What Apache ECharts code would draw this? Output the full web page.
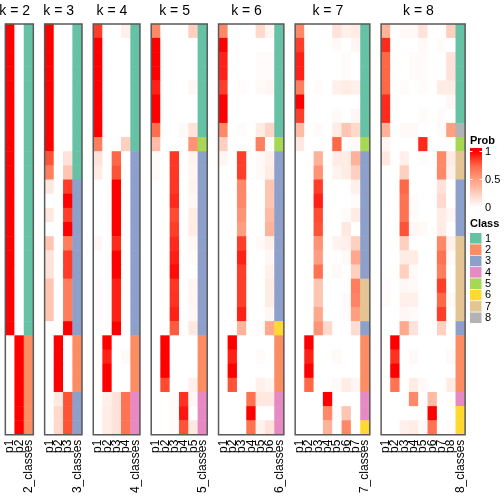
<!DOCTYPE html>
<html><head><meta charset="utf-8">
<script src="https://cdn.jsdelivr.net/npm/echarts@6/dist/echarts.min.js"></script>
<style>html,body{margin:0;padding:0;background:#fff}#c{width:504px;height:504px}</style>
</head><body><div id="c"></div>
<script>
// ---- data: rows top->bottom, columns p1..pk ----
const probK2 = [
[1,0],[1,0],[1,0],[1,0],[1,0],[1,0],[1,0],[1,0],[1,0],[1,0],[1,0],[1,0],[1,0],[1,0],[1,0],[1,0],[1,0],[1,0],[1,0],[1,0],[1,0],[1,0],
[0,1],[0,1],[0,1],[0,1],[0,1],[0,1],[0,1]];
const classK2 = [1,1,1,1,1,1,1,1,1,1,1,1,1,1,1,1,1,1,1,1,1,1,2,2,2,2,2,2,2];

const probK3 = [
[1,0,0],[1,0,0],[1,0,0],[1,0,0],[1,0,0],[1,0,0],[1,0,0],[1,0,0],[1,0,0],
[0.8,0,0.15],[0.65,0,0.3],[0.12,0,0.85],[0,0,1],[0.12,0,0.85],[0,0,1],
[0.3,0,0.65],[0.15,0,0.85],[0.15,0,0.85],[0.3,0,0.65],[0.3,0,0.65],[0.3,0,0.65],[0,0,1],
[0,1,0],[0,1,0],[0,1,0],[0,1,0],[0,0.12,0.8],[0,0.2,0.8],[0,0.2,0.8]];
const classK3 = [1,1,1,1,1,1,1,1,1,1,1,3,3,3,3,3,3,3,3,3,3,3,2,2,2,2,3,3,3];

const probK4 = [
[0.85,0,0,0.08],[1,0,0,0],[1,0,0,0],[1,0,0,0],[1,0,0,0],[1,0,0,0],[1,0,0,0],[1,0,0,0],
[0.65,0,0,0.25],[0.15,0,0.75,0],[0.1,0,0.8,0],[0,0,1,0],[0,0,1,0],[0,0,1,0],[0,0,1,0],
[0.04,0,0.9,0],[0,0,1,0],[0,0,1,0],[0.02,0,0.92,0],[0.02,0,0.92,0],[0.02,0,0.92,0],[0,0,1,0],
[0,1,0,0],[0,0.92,0,0.03],[0,1,0,0],[0,1,0,0],[0,0.08,0.15,0.7],[0,0.1,0.15,0.7],[0,0.1,0.15,0.7]];
const classK4 = [1,1,1,1,1,1,1,1,1,3,3,3,3,3,3,3,3,3,3,3,3,3,2,2,2,2,4,4,4];

const probK5 = [
[0.6,0,0,0,0.25],[1,0,0,0,0],[1,0,0,0,0],[1,0,0,0,0],[0.92,0,0,0,0.04],[1,0,0,0,0],[1,0,0,0,0],
[0.72,0,0,0.03,0.15],[0.35,0,0,0,0.55],[0.03,0,0.87,0,0.06],[0.03,0,0.87,0,0.05],[0,0,0.87,0,0.06],
[0,0,0.9,0,0.04],[0,0,0.82,0,0.1],[0,0,0.85,0,0.1],[0,0,0.9,0,0.04],[0,0,0.93,0,0.02],[0,0,0.97,0,0],
[0,0,0.87,0,0.05],[0,0,0.88,0,0.05],[0,0,0.92,0,0.04],[0,0,0.78,0,0.12],
[0,1,0,0,0],[0,1,0,0,0],[0,1,0,0,0],[0,0.82,0,0,0.08],[0,0,0.02,0.88,0.04],[0,0,0.02,0.95,0],[0,0,0.02,0.8,0.12]];
const classK5 = [1,1,1,1,1,1,1,1,5,3,3,3,3,3,3,3,3,3,3,3,3,3,2,2,2,2,4,4,4];

const probK6 = [
[0.6,0,0,0,0.2,0.05],[1,0,0,0,0,0],[0.92,0,0,0,0.02,0.02],[0.92,0,0,0,0.02,0.02],[0.85,0,0.02,0,0.03,0.05],
[1,0,0,0,0,0],[1,0,0,0,0,0],[0.6,0,0.02,0,0.1,0.22],[0.25,0,0,0,0.65,0],[0.05,0,0.85,0,0.03,0.08],
[0,0,0.85,0,0.03,0.1],[0,0,0.6,0,0,0.3],[0,0,0.6,0,0,0.3],[0,0,0.55,0,0,0.35],[0,0,0.5,0,0,0.4],
[0,0,0.85,0,0.03,0.08],[0,0,0.92,0,0,0.04],[0,0,0.85,0,0,0.08],[0,0,0.85,0,0,0.1],[0,0,0.85,0,0,0.1],
[0,0,0.92,0,0,0.04],[0,0,0.4,0,0.02,0.45],[0,1,0,0,0,0],[0,0.92,0,0,0.02,0],[0,1,0,0,0,0],
[0,0.8,0,0,0.08,0.05],[0,0,0,0.7,0.12,0.12],[0,0,0,1,0,0],[0,0,0,0.7,0.06,0.15]];
const classK6 = [1,1,1,1,1,1,1,1,5,3,3,3,3,3,3,3,3,3,3,3,3,6,2,2,2,2,4,4,4];

const probK7 = [
[0.6,0,0,0,0.15,0.08,0.1],[0.85,0,0,0,0.03,0,0.05],[0.92,0,0,0,0,0.02,0],[0.92,0,0,0,0,0.02,0],
[0.65,0,0.02,0,0.08,0.1,0.08],[1,0,0,0,0,0,0],[0.85,0,0,0,0.03,0,0.04],[0.35,0,0.02,0,0.1,0.3,0.2],
[0.12,0,0,0,0.75,0,0.03],[0,0,0.4,0,0.1,0.1,0.4],[0,0,0.55,0,0.06,0.1,0.25],[0,0,0.85,0,0,0,0.08],
[0,0,0.92,0,0,0,0.02],[0,0,0.82,0,0,0.02,0.1],[0,0,0.8,0,0,0.12,0],[0,0,0.55,0,0.06,0.08,0.25],
[0,0,0.5,0,0,0.03,0.45],[0,0,0.7,0,0.03,0,0.25],[0,0,0.3,0,0,0,0.65],[0,0,0.3,0,0,0.03,0.62],
[0,0,0.45,0,0,0.02,0.5],[0,0,0.55,0.2,0,0,0.18],[0,1,0,0,0,0,0],[0,0.92,0,0,0.03,0,0],
[0,1,0,0,0,0,0],[0,0.75,0,0,0.03,0.1,0.05],[0,0,0,1,0,0,0],[0,0,0,0.6,0.02,0.3,0],[0,0,0,0.4,0,0.6,0]];
const classK7 = [1,1,1,1,1,1,1,1,5,3,3,3,3,3,3,3,3,3,7,7,7,3,2,2,2,2,4,4,6];

const probK8 = [
[0.4,0,0.03,0.03,0.15,0,0,0.25],[0.9,0,0,0,0.03,0,0.02,0],[0.75,0,0,0.02,0.02,0,0,0.15],
[0.75,0,0,0.02,0.02,0,0,0.15],[0.75,0,0.02,0,0.02,0,0.1,0.1],[0.9,0,0,0,0,0,0,0.04],
[0.9,0,0,0,0.02,0,0.02,0],[0.4,0,0.03,0.03,0,0,0.02,0.5],[0.05,0,0,0,0.9,0,0,0],
[0.12,0,0.08,0,0.02,0,0.6,0.1],[0,0,0.25,0,0,0,0.6,0.08],[0,0,0.75,0,0,0,0.15,0],
[0,0,0.7,0.02,0,0,0.2,0],[0,0,0.7,0.02,0,0,0.1,0.04],[0,0,0.8,0.04,0.03,0,0.1,0],
[0,0,0.25,0,0,0,0.6,0.08],[0,0,0.1,0.1,0,0,0.7,0.03],[0,0,0.25,0.03,0,0,0.65,0],
[0.02,0,0.04,0.03,0,0,0.85,0],[0.02,0,0.08,0.08,0,0,0.75,0.03],[0,0,0.04,0.02,0,0,0.85,0],
[0,0,0.45,0.15,0,0,0.25,0],[0,1,0,0,0,0,0,0],[0,0.88,0,0.03,0,0,0,0.03],[0,1,0,0,0,0,0,0],
[0,0.7,0,0.1,0.03,0,0,0.1],[0,0,0,0.6,0,0.35,0,0],[0,0,0,0,0,1,0,0],[0,0,0.08,0.1,0.03,0.7,0,0.02]];
const classK8 = [1,1,1,1,1,1,1,8,5,7,7,3,3,3,3,7,7,7,7,7,7,3,2,2,2,2,4,6,6];

const panelKs = [2,3,4,5,6,7,8];
const probSets = [probK2,probK3,probK4,probK5,probK6,probK7,probK8];
const classSets = [classK2,classK3,classK4,classK5,classK6,classK7,classK8];
const classLabels = ['1','2','3','4','5','6','7','8'];
const classColors = ['#66C2A5','#FC8D62','#8DA0CB','#E78AC3','#A6D854','#FFD92F','#E5C494','#B3B3B3'];
const probTickLabels = ['1','0.5','0'];

(function () {
// ---- layout ----
const FONT = '"Liberation Sans", Arial, sans-serif';
const cellW = 9.333, gap = 11.3, gTop = 24, gHeight = 410.7;
const grids = [], xAxes = [], yAxes = [], series = [], graphics = [];
const probIdx = [], classIdx = [];
let gLeft = 5.33;
const nRows = probK2.length;
const rowCats = Array.from({length: nRows}, (_, i) => String(i));
panelKs.forEach((k, pi) => {
  const w = cellW * (k + 1);
  grids.push({left: gLeft, top: gTop, width: w, height: gHeight, show: true, z: 10,
    backgroundColor: 'rgba(0,0,0,0)', borderColor: '#5a5a5a', borderWidth: 1.5, containLabel: false});
  const cats = [];
  for (let c = 1; c <= k; c++) cats.push('p' + c);
  cats.push(k + '_classes');
  xAxes.push({type: 'category', gridIndex: pi, data: cats, position: 'bottom',
    axisLine: {show: false}, axisTick: {show: false}, splitLine: {show: false},
    axisLabel: {rotate: 90, interval: 0, fontSize: 12, color: '#000', margin: 5, fontFamily: FONT}});
  yAxes.push({type: 'category', gridIndex: pi, data: rowCats, inverse: true, show: false});
  const pd = [];
  probSets[pi].forEach((row, r) => row.forEach((v, c) => pd.push([c, r, v])));
  probIdx.push(series.length);
  series.push({type: 'heatmap', xAxisIndex: pi, yAxisIndex: pi, data: pd, itemStyle: {borderWidth: 0}, emphasis: {disabled: true}});
  const cd = classSets[pi].map((v, r) => [k, r, v]);
  classIdx.push(series.length);
  series.push({type: 'heatmap', xAxisIndex: pi, yAxisIndex: pi, data: cd, itemStyle: {borderWidth: 0}, emphasis: {disabled: true}});
  graphics.push({type: 'text', x: gLeft + cellW * k / 2, y: 11,
    style: {text: 'k = ' + k, font: '14px ' + FONT, fill: '#000', align: 'center', verticalAlign: 'middle'}});
  gLeft += w + gap;
});

// ---- legend (Prob) ----
const lx = 470;
graphics.push({type: 'text', x: lx, y: 141, style: {text: 'Prob', font: 'bold 11px ' + FONT, fill: '#000', verticalAlign: 'middle'}});
const barTop = 148, barH = 63, yOne = 151.5, yZero = 207.5;
const o1 = (yOne - barTop) / barH, o0 = (yZero - barTop) / barH;
graphics.push({type: 'rect', shape: {x: lx, y: barTop, width: 12, height: barH},
  style: {fill: new echarts.graphic.LinearGradient(0, 0, 0, 1, [
    {offset: 0, color: '#FF0000'}, {offset: o1, color: '#FF0000'},
    {offset: o1 + (o0 - o1) * 0.25, color: '#FF6846'},
    {offset: o1 + (o0 - o1) * 0.5, color: '#FF9E81'},
    {offset: o1 + (o0 - o1) * 0.75, color: '#FFCFBF'},
    {offset: o0, color: '#FFFFFF'}, {offset: 1, color: '#FFFFFF'}])}});
probTickLabels.forEach((t, i) => {
  const yy = yOne + (yZero - yOne) * i / 2;
  graphics.push({type: 'line', shape: {x1: lx, y1: yy, x2: lx + 2.5, y2: yy}, style: {stroke: '#fff', lineWidth: 1}});
  graphics.push({type: 'line', shape: {x1: lx + 9.5, y1: yy, x2: lx + 12, y2: yy}, style: {stroke: '#fff', lineWidth: 1}});
  graphics.push({type: 'text', x: lx + 15, y: yy, style: {text: t, font: '11px ' + FONT, fill: '#000', verticalAlign: 'middle'}});
});

// ---- legend (Class) ----
graphics.push({type: 'text', x: lx, y: 224, style: {text: 'Class', font: 'bold 11px ' + FONT, fill: '#000', verticalAlign: 'middle'}});
classLabels.forEach((t, i) => {
  const yy = 233 + i * 11.35;
  graphics.push({type: 'rect', shape: {x: lx, y: yy, width: 11.5, height: 10.6}, style: {fill: classColors[i]}});
  graphics.push({type: 'text', x: lx + 15, y: yy + 5.5, style: {text: t, font: '11px ' + FONT, fill: '#000', verticalAlign: 'middle'}});
});

const chart = echarts.init(document.getElementById('c'), null, {renderer: 'canvas'});
chart.setOption({
  animation: false,
  textStyle: {fontFamily: FONT},
  grid: grids, xAxis: xAxes, yAxis: yAxes,
  visualMap: [
    {type: 'continuous', show: false, min: 0, max: 1, seriesIndex: probIdx, dimension: 2,
      inRange: {color: ['#FFFFFF', '#FFCFBF', '#FF9E81', '#FF6846', '#FF0000']}},
    {type: 'piecewise', show: false, seriesIndex: classIdx, dimension: 2,
      pieces: classLabels.map((t, i) => ({value: Number(t), color: classColors[i]}))}
  ],
  series: series,
  graphic: graphics
});
})();
</script></body></html>
